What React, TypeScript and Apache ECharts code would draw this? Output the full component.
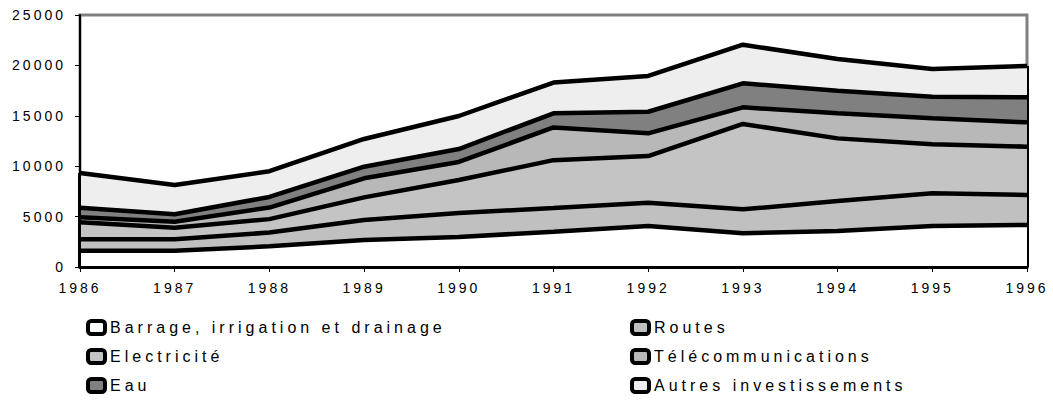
import React, { useEffect, useRef } from "react";
import * as echarts from "echarts";

const years = ["1986", "1987", "1988", "1989", "1990", "1991", "1992", "1993", "1994", "1995", "1996"];
const yTicks = [0, 5000, 10000, 15000, 20000, 25000];

const barrage = [1620, 1620, 2050, 2680, 2980, 3500, 4070, 3340, 3570, 4070, 4170];
const routes = [1130, 1130, 1370, 1980, 2380, 2350, 2310, 2380, 2980, 3240, 2970];
const electricite = [1680, 1150, 1330, 2250, 3270, 4750, 4630, 8470, 6210, 4860, 4800];
const telecom = [500, 590, 1150, 1890, 1790, 3250, 2250, 1650, 2490, 2580, 2410];
const eau = [950, 740, 1050, 1150, 1280, 1400, 2140, 2380, 2240, 2140, 2480];
const autres = [3450, 2900, 2550, 2750, 3280, 3050, 3550, 3830, 3140, 2750, 3110];

const seriesNames = [
  "Barrage, irrigation et drainage",
  "Routes",
  "Electricité",
  "Télécommunications",
  "Eau",
  "Autres investissements",
];
const seriesData = [barrage, routes, electricite, telecom, eau, autres];
const fills = ["#ffffff", "#c0c0c0", "#c4c4c4", "#b8b8b8", "#808080", "#eeeeee"];

const FONT = "'Liberation Sans', Arial, sans-serif";

export default function App() {
  const ref = useRef<HTMLDivElement>(null);

  useEffect(() => {
    if (!ref.current) return;
    const el = ref.current;
    const chart = echarts.init(el, undefined, { renderer: "svg" });

    const totals = years.map((_, i) => seriesData.reduce((s, arr) => s + arr[i], 0));
    const last = years.length - 1;

    const series: any[] = seriesNames.map((name, idx) => ({
      name,
      type: "line",
      stack: "total",
      data: seriesData[idx],
      symbol: "none",
      z: 10 - idx,
      color: fills[idx],
      itemStyle: { color: fills[idx] },
      lineStyle: { color: "#000", width: 4.5 },
      areaStyle: { color: fills[idx], opacity: 1 },
      emphasis: { disabled: true },
      ...(idx === 0
        ? {
            markLine: {
              silent: true,
              symbol: "none",
              label: { show: false },
              lineStyle: { color: "#000", width: 4, type: "solid" },
              data: [
                [{ coord: [years[0], 0] }, { coord: [years[0], totals[0]] }],
                [{ coord: [years[last], 0] }, { coord: [years[last], totals[last]] }],
              ],
            },
          }
        : {}),
    }));

    const legendCommon = {
      orient: "vertical",
      selectedMode: false,
      icon: "roundRect",
      itemWidth: 17,
      itemHeight: 13,
      itemGap: 12,
      padding: 0,
      top: 319,
      itemStyle: { borderColor: "#000", borderWidth: 4 },
      textStyle: { fontFamily: FONT, fontSize: 16, color: "#000", lineHeight: 16 },
    };

    chart.setOption({
      animation: false,
      backgroundColor: "#fff",
      textStyle: { fontFamily: FONT },
      grid: {
        left: 80,
        right: 26,
        top: 15,
        bottom: 134,
        show: true,
        borderColor: "#808080",
        borderWidth: 3,
        backgroundColor: "transparent",
      },
      legend: [
        { ...legendCommon, left: 86, data: [seriesNames[0], seriesNames[2], seriesNames[4]] },
        { ...legendCommon, left: 630, data: [seriesNames[1], seriesNames[3], seriesNames[5]] },
      ],
      xAxis: {
        type: "category",
        data: years,
        boundaryGap: false,
        z: 12,
        axisLine: { show: true, lineStyle: { color: "#000", width: 3 } },
        axisTick: { show: true, length: 5, lineStyle: { color: "#000", width: 1 } },
        axisLabel: { fontFamily: FONT, fontSize: 14, color: "#000", margin: 14 },
        splitLine: { show: false },
      },
      yAxis: {
        type: "value",
        min: yTicks[0],
        max: yTicks[yTicks.length - 1],
        interval: 5000,
        z: 12,
        axisLine: { show: true, lineStyle: { color: "#000", width: 2 } },
        axisTick: { show: true, length: 5, lineStyle: { color: "#000", width: 1 } },
        axisLabel: {
          fontFamily: FONT,
          fontSize: 14,
          color: "#000",
          margin: 14,
          formatter: (v: number) => String(v),
        },
        splitLine: { show: false },
      },
      series,
    });

    const applySpacing = () => {
      el.querySelectorAll("text").forEach((t) => {
        const txt = t.textContent || "";
        const isLegend = seriesNames.includes(txt);
        t.setAttribute("letter-spacing", isLegend ? "4" : "3");
      });
    };
    applySpacing();
    chart.on("finished", applySpacing);

    return () => {
      chart.dispose();
    };
  }, []);

  return (
    <div
      ref={ref}
      style={{ position: "fixed", left: 0, top: 0, width: 1053, height: 401 }}
    />
  );
}
